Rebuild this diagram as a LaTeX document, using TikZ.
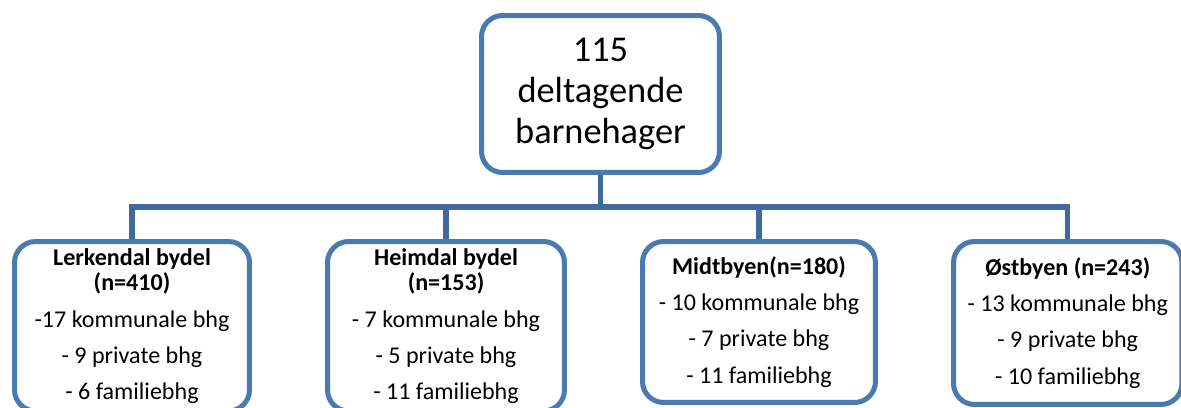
\documentclass[tikz,border=0pt]{standalone}
\usepackage{fontspec}
\setmainfont{Carlito}
\usetikzlibrary{positioning}
\definecolor{boxblue}{HTML}{4A7AB2}
\definecolor{connblue}{HTML}{41699E}
\tikzset{
  every picture/.style={line cap=butt, line join=miter},
  % rounded boxes of the chart
  orgbox/.style={draw=boxblue, line width=2.85pt, rounded corners=0.42cm, fill=white,
    align=center, inner sep=0pt, text=black},
  topbox/.style={orgbox, font=\fontsize{20.7}{23.3}\selectfont},
  areabox/.style={orgbox, font=\fontsize{13.7}{14.2}\selectfont},
  conn/.style={draw=connblue, line width=2.9pt},
}
\newcommand{\itemgap}{\\[6.4pt]}

\begin{document}
\begin{tikzpicture}[x=0.02cm, y=-0.02cm]
  \useasboundingbox (0,0) rectangle (1181,407);
  \coordinate (bus) at (0,207);   % level of the horizontal line
  % top box
  \node[topbox, minimum width=4.76cm, minimum height=3.14cm] (top) at (600.5,94)
    {115\\deltagende\\barnehager};
  % the four districts
  \node[areabox, minimum width=4.70cm, minimum height=3.39cm] (lerk) at (132,326.25)
    {\textbf{Lerkendal bydel}\\\textbf{(n=410)}\itemgap -17 kommunale bhg\itemgap - 9 private bhg\itemgap - 6 familiebhg};
  \node[areabox, minimum width=4.74cm, minimum height=3.39cm] (heim) at (446,326.25)
    {\textbf{Heimdal bydel}\\\textbf{(n=153)}\itemgap - 7 kommunale bhg\itemgap - 5 private bhg\itemgap - 11 familiebhg};
  \node[areabox, minimum width=4.66cm, minimum height=3.22cm] (midt) at (759,322)
    {\textbf{Midtbyen(n=180)}\itemgap - 10 kommunale bhg\itemgap - 7 private bhg\itemgap - 11 familiebhg};
  \node[areabox, minimum width=4.57cm, minimum height=3.26cm] (ost) at (1067.75,323)
    {\textbf{Østbyen (n=243)}\itemgap - 13 kommunale bhg\itemgap - 9 private bhg\itemgap - 10 familiebhg};
  % connectors
  \draw[conn] (top.south) -- (top.south |- bus);
  \draw[conn] (lerk.north) |- (ost.north |- bus) -- (ost.north);
  \foreach \b in {heim, midt}
    \draw[conn] (\b.north |- bus) -- (\b.north);
\end{tikzpicture}
\end{document}
